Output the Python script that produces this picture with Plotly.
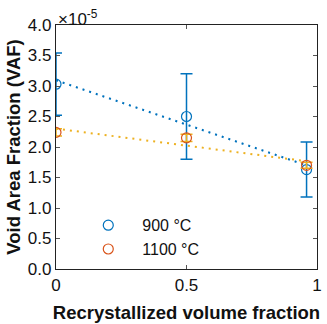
import numpy as np
import plotly.graph_objects as go

# Data (VAF in units of 1e-5)
x_frac = [0.0, 0.5, 0.96]
vaf_900 = [3.03, 2.50, 1.63]
err_900 = [0.51, 0.70, 0.45]
vaf_1100 = [2.24, 2.15, 1.70]
err_1100 = [0.06, 0.06, 0.05]
y_ticks = [0.0, 0.5, 1.0, 1.5, 2.0, 2.5, 3.0, 3.5, 4.0]
x_ticks = [0, 0.5, 1]

blue = "#0072BD"
orange = "#D95319"
yellow = "#EDB120"

fit_x = np.array([0.0, 0.96])
p900 = np.polyfit(x_frac, vaf_900, 1)
p1100 = np.polyfit(x_frac, vaf_1100, 1)

fig = go.Figure()
fig.add_trace(go.Scatter(x=fit_x, y=np.polyval(p900, fit_x), mode="lines",
                         line=dict(color=blue, dash="2px,5px", width=2), showlegend=False))
fig.add_trace(go.Scatter(x=fit_x, y=np.polyval(p1100, fit_x), mode="lines",
                         line=dict(color=yellow, dash="2px,5px", width=2), showlegend=False))
fig.add_trace(go.Scatter(x=x_frac, y=vaf_900, mode="markers", name="900 °C",
                         marker=dict(symbol="circle-open", size=10, color=blue, line=dict(width=1.2)),
                         error_y=dict(type="data", array=err_900, color=blue, thickness=1.5, width=6)))
fig.add_trace(go.Scatter(x=x_frac, y=vaf_1100, mode="markers", name="1100 °C",
                         marker=dict(symbol="circle-open", size=10, color=orange, line=dict(width=1.2)),
                         error_y=dict(type="data", array=err_1100, color=yellow, thickness=1.5, width=6)))

font = "Liberation Sans, Arial, sans-serif"
fig.update_layout(
    width=327, height=324,
    margin=dict(l=56, r=5, t=25, b=55),
    paper_bgcolor="white", plot_bgcolor="white",
    font=dict(family=font, size=17, color="#111"),
    showlegend=True,
    legend=dict(x=0.07, y=0.13, xanchor="left", yanchor="middle",
                bgcolor="rgba(0,0,0,0)", font=dict(size=16), itemwidth=58, tracegroupgap=0),
    xaxis=dict(range=[0, 1], tickvals=x_ticks, ticktext=["0", "0.5", "1"],
               ticks="inside", ticklen=4, tickcolor="#555", showgrid=False, zeroline=False,
               showline=True, linecolor="#222", linewidth=1.2, mirror="ticks",
               title=dict(text="<b>Recrystallized volume fraction</b>", font=dict(size=18.5), standoff=12)),
    yaxis=dict(range=[0, 4], tickvals=y_ticks, ticktext=[f"{v:.1f}" for v in y_ticks],
               ticks="inside", ticklen=4, tickcolor="#555", showgrid=False, zeroline=False,
               showline=True, linecolor="#222", linewidth=1.2, mirror="ticks",
               title=dict(text="<b>Void Area Fraction (VAF)</b>", font=dict(size=18.5), standoff=2)),
)
fig.add_annotation(x=0, y=1, xref="paper", yref="paper", xanchor="left", yanchor="bottom",
                   text="×10<sup>-5</sup>", showarrow=False, font=dict(size=17), yshift=-6)

fig.write_html("out.html")
